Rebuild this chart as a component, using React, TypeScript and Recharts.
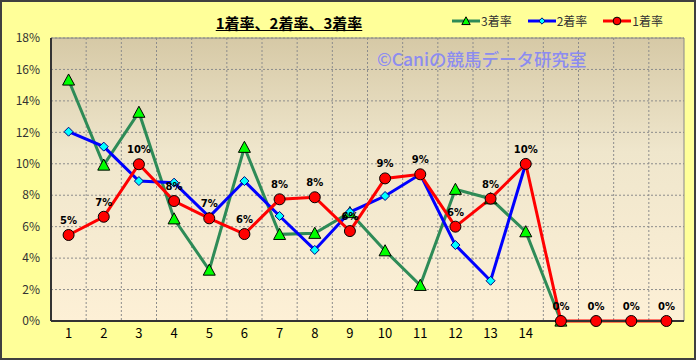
import { ComposedChart, Line, XAxis, YAxis, CartesianGrid, Legend, LabelList, ReferenceArea } from 'recharts';

const positions = ['1', '2', '3', '4', '5', '6', '7', '8', '9', '10', '11', '12', '13', '14', '15', '16', '17', '18'];
const tickLabels = ['1', '2', '3', '4', '5', '6', '7', '8', '9', '10', '11', '12', '13', '14', '', '', '', ''];
const win1 = [5.47, 6.63, 9.97, 7.63, 6.53, 5.53, 7.74, 7.87, 5.72, 9.07, 9.33, 6.0, 7.78, 9.99, 0, 0, 0, 0];
const win2 = [12.04, 11.09, 8.9, 8.8, 6.63, 8.9, 6.68, 4.52, 6.93, 7.95, 9.33, 4.83, 2.56, 10.0, null, null, null, null];
const win3 = [15.33, 9.92, 13.28, 6.5, 3.24, 11.05, 5.51, 5.58, 6.9, 4.47, 2.27, 8.38, 7.78, 5.68, 0, null, null, null];
const yTicks = [0, 2, 4, 6, 8, 10, 12, 14, 16, 18];

const data = positions.map((p, i) => ({ pos: p, r1: win1[i], r2: win2[i], r3: win3[i] }));

const FONT = '"Noto Sans CJK JP", "DejaVu Sans", sans-serif';

const Circle = (props: any) => {
  const { cx, cy, scale = 1 } = props;
  if (cx == null || cy == null || props.value == null) return null;
  return <circle key={props.key} cx={cx} cy={cy} r={5.5 * scale} fill="#ff0000" stroke="#000" strokeWidth={1} />;
};

const Diamond = (props: any) => {
  const { cx, cy, scale = 1 } = props;
  if (cx == null || cy == null || props.value == null) return null;
  const s = 4.5 * scale;
  return (
    <polygon key={props.key} points={`${cx},${cy - s} ${cx + s},${cy} ${cx},${cy + s} ${cx - s},${cy}`}
      fill="#00ffff" stroke="#000080" strokeWidth={1} />
  );
};

const Triangle = (props: any) => {
  const { cx, cy, scale = 1 } = props;
  if (cx == null || cy == null || props.value == null) return null;
  const s = 6 * scale;
  return (
    <polygon key={props.key} points={`${cx},${cy - s} ${cx + s},${cy + s * 0.85} ${cx - s},${cy + s * 0.85}`}
      fill="#00ff00" stroke="#000" strokeWidth={1} />
  );
};

const legendItems = [
  { name: '3着率', color: '#2e8b57', Marker: Triangle },
  { name: '2着率', color: '#0000ff', Marker: Diamond },
  { name: '1着率', color: '#ff0000', Marker: Circle },
];

const LegendBox = () => (
  <div style={{ display: 'flex', gap: 16, fontFamily: FONT, fontSize: 12, color: '#333' }}>
    {legendItems.map(({ name, color, Marker }) => (
      <div key={name} style={{ display: 'flex', alignItems: 'center' }}>
        <svg width={28} height={14}>
          <line x1={0} y1={7} x2={28} y2={7} stroke={color} strokeWidth={3} />
          <Marker cx={14} cy={7} value={1} scale={0.7} />
        </svg>
        <span style={{ marginLeft: 1 }}>{name}</span>
      </div>
    ))}
  </div>
);

export default function App() {
  return (
    <div style={{ position: 'absolute', left: 0, top: 0, width: 696, height: 360, background: '#ffff99' }}>
      <ComposedChart width={696} height={360} data={data} margin={{ top: 38, right: 12, left: 11, bottom: 9 }}>
        <defs>
          <linearGradient id="plotBg" x1="0" y1="0" x2="0" y2="1">
            <stop offset="0%" stopColor="#d6c9a6" />
            <stop offset="40%" stopColor="#efe6cc" />
            <stop offset="100%" stopColor="#fdf0d6" />
          </linearGradient>
        </defs>
        <CartesianGrid
          fill="url(#plotBg)"
          stroke="#8c8c8c"
          strokeDasharray="2 2"
          verticalCoordinatesGenerator={({ offset }: any) =>
            positions.map((_, i) => offset.left + (i * offset.width) / positions.length)}
        />
        <ReferenceArea x1="1" x2="18" y1={0} y2={18} fill="none" stroke="#888" strokeWidth={1} />
        <XAxis
          dataKey="pos"
          scale="band"
          height={30}
          tickLine={false}
          axisLine={{ stroke: '#333', strokeWidth: 2 }}
          tickFormatter={(_v: any, i: number) => tickLabels[i]}
          tick={{ fill: '#000', fontSize: 13, fontFamily: FONT }}
          interval={0}
        />
        <YAxis
          domain={[0, 18]}
          ticks={yTicks}
          width={40}
          tickLine={false}
          tickMargin={5}
          axisLine={{ stroke: '#333', strokeWidth: 2 }}
          tickFormatter={(v: number) => `${v}%`}
          tick={{ fill: '#333', fontSize: 12, fontFamily: FONT }}
        />
        <Legend
          layout="horizontal"
          verticalAlign="middle"
          content={<LegendBox />}
          wrapperStyle={{ top: 12, left: 452, width: 'auto' }}
        />
        <Line dataKey="r3" name="3着率" stroke="#2e8b57" strokeWidth={3} dot={<Triangle />} isAnimationActive={false} connectNulls={false} />
        <Line dataKey="r2" name="2着率" stroke="#0000ff" strokeWidth={3} dot={<Diamond />} isAnimationActive={false} connectNulls={false} />
        <Line dataKey="r1" name="1着率" stroke="#ff0000" strokeWidth={3} dot={<Circle />} isAnimationActive={false}>
          <LabelList
            dataKey="r1"
            position="top"
            offset={11}
            formatter={(v: number) => `${Math.round(v)}%`}
            style={{ fontSize: 10, fontWeight: 'bold', fill: '#000', fontFamily: '"DejaVu Sans", sans-serif' }}
          />
        </Line>
      </ComposedChart>
      <div style={{ position: 'absolute', left: 0, top: 12, width: 578, textAlign: 'center', fontFamily: FONT, fontSize: 15, fontWeight: 'bold', textDecoration: 'underline', color: '#000' }}>
        1着率、2着率、3着率
      </div>
      <div style={{ position: 'absolute', left: 377, top: 46, fontFamily: FONT, fontSize: 17.5, fontWeight: 500, color: '#8c8cf0', pointerEvents: 'none' }}>
        ©Caniの競馬データ研究室
      </div>
      <div style={{ position: 'absolute', inset: 0, border: '2px solid #404040', pointerEvents: 'none' }} />
    </div>
  );
}
